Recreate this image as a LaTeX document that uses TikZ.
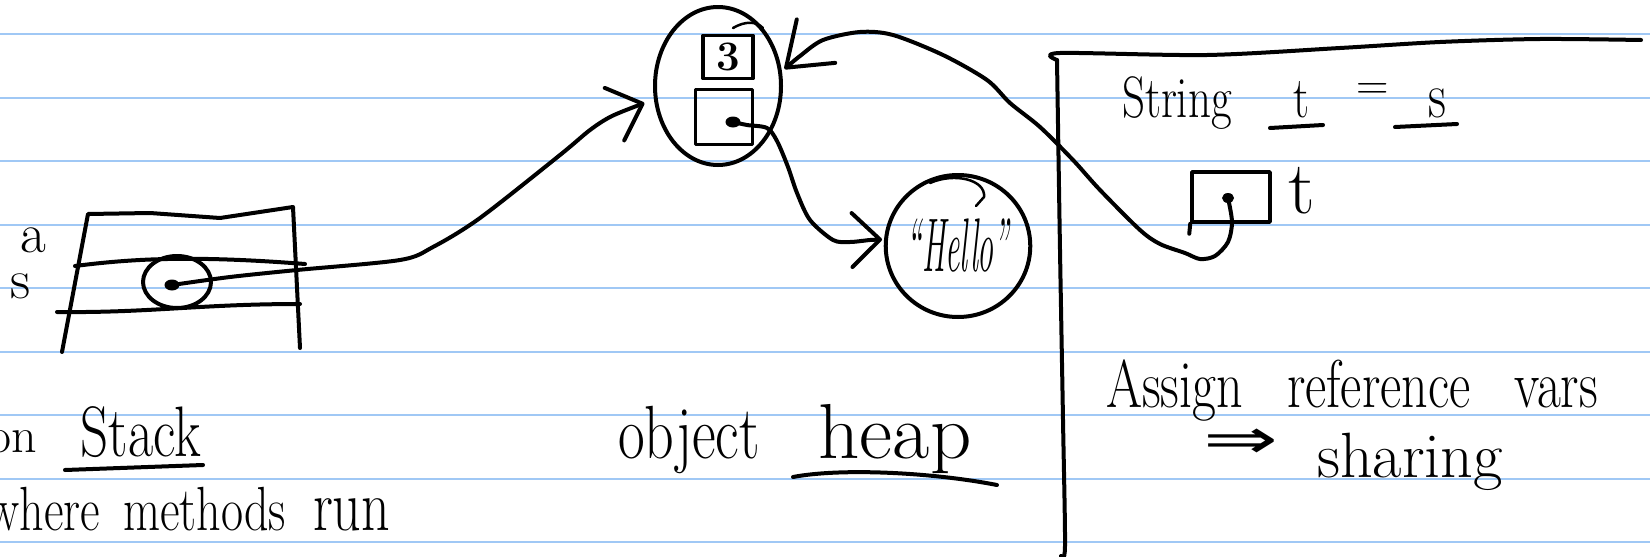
\documentclass[tikz,border=0pt]{standalone}
\usepackage{fontspec}
\newfontfamily\symfont{DejaVu Sans}
\usetikzlibrary{arrows.meta,shapes.geometric}
\definecolor{ruleblue}{RGB}{160,200,245}
\newcommand\hwsize[1]{\fontsize{#1}{#1}\selectfont}
\newcommand\tall[2][1]{\scalebox{#1}[1.3]{#2}}
\begin{document}
\begin{tikzpicture}[x=1pt,y=-1pt,
  pen/.style={line width=4pt,line cap=round,line join=round},
  thinpen/.style={line width=2.5pt,line cap=round,line join=round},
  rulestyle/.style={ruleblue,line width=2pt},
  txt/.style={inner sep=0pt,outer sep=0pt,anchor=base},
  box/.style={draw,line width=3.5pt,line join=round,inner sep=0pt,rectangle},
  dotn/.style={fill,ellipse,inner sep=0pt,minimum width=15pt,minimum height=11pt},
  oval/.style={draw,pen,ellipse,inner sep=0pt},
  tipA/.style={-{Straight Barb[round,length=30pt,width=56pt]}},
  tipB/.style={-{Straight Barb[round,length=28pt,width=54pt]}},
  tipC/.style={-{Straight Barb[round,length=40pt,width=58pt]}},
]
\useasboundingbox (0,0) rectangle (1650,557);
\clip (0,0) rectangle (1650,557);
\fill[white] (0,0) rectangle (1650,557);
\foreach \k in {0,...,8} \draw[rulestyle] (0,34+63.5*\k) -- (1650,34+63.5*\k);

% ---------- stack frame ----------
\draw[pen] (62,352) -- (88,214) -- (150,213) -- (220,218) -- (293,207) -- (300,348);
\draw[pen] (75,266) .. controls (130,259) and (190,255) .. (305,264);
\draw[pen] (57,312) .. controls (150,313) and (200,304) .. (300,304);
\node[oval,minimum width=68pt,minimum height=52pt] (scirc) at (177,282) {};
\node[dotn] (sdot) at (172,285) {};
\node[txt] (alab) at (33,252) {\hwsize{56}a};
\node[txt] (slab) at (21,298) {\hwsize{56}s};

% ---------- heap object ----------
\node[oval,minimum width=126pt,minimum height=158pt] (heap) at (718,86) {};
\node[box,minimum width=50pt,minimum height=43pt] (box3) at (728,57) {\hwsize{42}\bfseries 3};
\node[box,minimum width=57pt,minimum height=55pt] (box2) at (724,117) {};
\node[dotn] (adot) at (733,122) {};
\draw[thinpen] (733,28) .. controls (745,21) and (756,21) .. (763,28);

% ---------- Hello object ----------
\node[oval,minimum width=134pt,minimum height=142pt] (hello) at (958,246)
  {\hwsize{76}\itshape\scalebox{0.42}[1]{“Hello”}};
\draw[thinpen] (930,183) .. controls (955,172) and (986,180) .. (984,197) -- (976,206);

% ---------- right panel ----------
\draw[pen] plot[smooth,tension=0.5] coordinates {(1061,556) (1065,546) (1063,420) (1060,250) (1057,60)};
\draw[pen] plot[smooth,tension=0.5] coordinates {(1057,60) (1060,53) (1207,55) (1340,48) (1440,42) (1540,39) (1641,40)};
\node[txt] (string) at (1177,117) {\hwsize{45}\tall{String}};
\node[txt] (tvar) at (1301,117) {\hwsize{45}\tall{t}};
\node[txt] (eq) at (1373,99) {\hwsize{45}=};
\node[txt] (svar) at (1437,117) {\hwsize{50}\tall{s}};
\draw[pen] (1270,128) -- (1323,125);
\draw[pen] (1395,127) -- (1457,124);
\node[box,minimum width=78pt,minimum height=50pt] (tbox) at (1231,197) {};
\draw[pen] (tbox.south west) -- ++(-1,10);
\node[dotn,minimum width=12pt,minimum height=10pt] (tdot) at (1228,198) {};
\node[txt] (tlab) at (1302,213) {\hwsize{75}t};
\node[txt] (assign) at (1352,407) {\hwsize{52}\tall{Assign\hspace{0.85em}reference\hspace{0.85em}vars}};
\node (imp) at (1241,444) {\symfont\hwsize{56}\scalebox{1.6}[1]{⇒}};
\node[txt] (sharing) at (1410,477) {\hwsize{64}sharing};

% ---------- bottom labels ----------
\node[txt,anchor=base east] (on) at (37,452) {\hwsize{50}on};
\node[txt] (stack) at (141,456) {\hwsize{55}\tall{Stack}};
\draw[pen] (65,470) -- (203,465);
\node[txt,anchor=base east] (where) at (100,530) {\hwsize{48}\tall{where}};
\node[txt,anchor=base west] (methods) at (123,530) {\hwsize{48}\tall{methods}};
\node[txt,anchor=base west] (run) at (313,530) {\hwsize{56}\tall{run}};
\node[txt] (object) at (689,458) {\hwsize{58}\tall{object}};
\node[txt] (heaplab) at (895,458) {\hwsize{60}\tall[1.35]{heap}};
\draw[pen] (793,477) .. controls (840,468) and (930,472) .. (997,485);

% ---------- connectors ----------
\coordinate (hA) at ([xshift=-10pt]heap.195);
\coordinate (hB) at ([xshift=-2pt]hello.175);
\coordinate (hC) at ([xshift=3pt]heap.15);
\draw[pen,tipA] plot[smooth,tension=0.5] coordinates
  {(sdot.center) (230,277) (297,270) (400,260) (433,247) (480,218) (560,155) (590,130) (612,116) (hA)};
\draw[pen,tipB] plot[smooth,tension=0.5] coordinates
  {(adot.center) (747,125) (767,128) (777,141) (788,167) (797,193) (810,220) (833,240) (850,242) (870,240) (hB)};
\draw[pen,tipC] plot[smooth,tension=0.5] coordinates
  {(tdot.center) (1232,222) (1228,242) (1215,256) (1200,259) (1185,253) (1160,244) (1140,230) (1100,190) (1073,160) (1040,127) (1010,103) (987,80) (943,55) (893,35) (860,32) (823,40) (800,56) (hC)};
\end{tikzpicture}
\end{document}
